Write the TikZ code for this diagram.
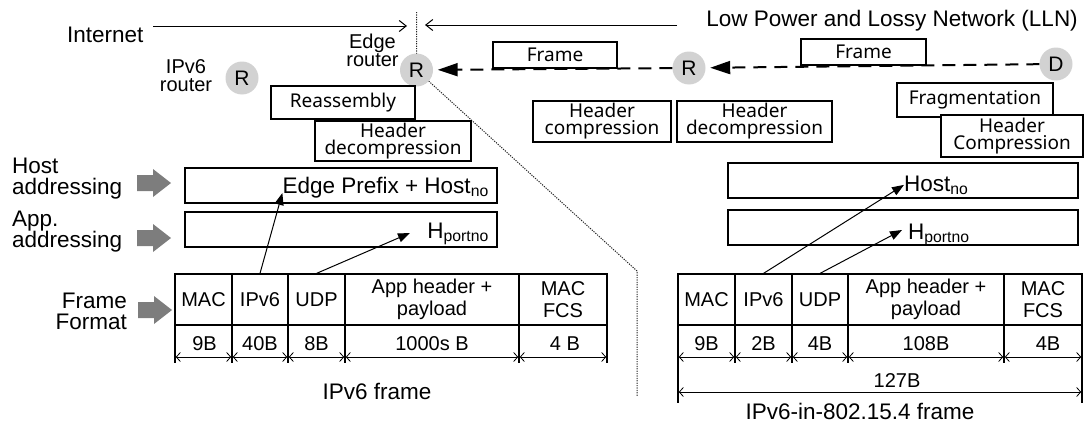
\documentclass[tikz,border=0pt]{standalone}
\usepackage{fontspec}
\setmainfont{Liberation Sans}
\newfontfamily\boxfont{Noto Sans}
\usetikzlibrary{arrows.meta}
\definecolor{routergray}{RGB}{210,210,210}
\definecolor{blockgray}{RGB}{125,125,125}
\tikzset{
    txt/.style={inner sep=0pt, font=\fontsize{22.5}{21}\selectfont},
    smalltxt/.style={inner sep=0pt, align=center, font=\fontsize{20}{18}\selectfont},
    router/.style={circle, fill=routergray, minimum size=33pt, inner sep=0pt, font=\fontsize{21}{21}\selectfont},
    fnbox/.style 2 args={draw, line width=1.5pt, fill=white, minimum width=#1, minimum height=#2,
        inner sep=0pt, align=center, font=\boxfont\fontsize{19}{17}\selectfont},
    addrbox/.style 2 args={draw, line width=1.2pt, minimum width=#1, minimum height=#2, inner sep=0pt},
    cell/.style={draw, line width=1.2pt, minimum height=51pt, inner sep=0pt, align=center, font=\fontsize{20}{22}\selectfont},
    celltxt/.style={inner sep=0pt, font=\fontsize{20}{22}\selectfont},
    tabline/.style={line width=1.2pt},
    sizearrow/.style={{Straight Barb[length=4pt,width=9pt]}-{Straight Barb[length=4pt,width=9pt]}, line width=0.8pt, shorten <=0.8pt, shorten >=0.8pt},
    netarrow/.style={-{Straight Barb[length=7pt,width=11pt]}, line width=1pt},
    dasharrow/.style={-{Triangle[length=20pt,width=13pt]}, line width=2pt, dash pattern=on 13pt off 8pt, shorten >=4.5pt},
    addrarrow/.style={-{Triangle[length=12pt,width=9pt]}, line width=1pt},
    dotline/.style={line width=1pt, black!85, dash pattern=on 1.2pt off 1.2pt},
    blockarrow/.style={fill=blockgray},
}
\begin{document}
\begin{tikzpicture}[x=1pt,y=-1pt]
    \useasboundingbox (0,0) rectangle (1088,423);
    \node[txt, anchor=base west] (inet) at (67,42) {Internet};
    \coordinate (inetl) at (153,26);
    \coordinate (inetr) at (407,26);
    \draw[netarrow] (inetl) -- (inetr);
    \node[txt, anchor=base east] (lln) at (1078,26) {Low Power and Lossy Network (LLN)};
    \coordinate (llnr) at (677,25);
    \coordinate (llnl) at (425,25);
    \draw[netarrow] (llnr) -- (llnl);
    \coordinate (edgec) at (416.5,70);
    \draw[dotline] (416.5,12) -- (edgec) -- (637,271) -- (637,397);
    \node[smalltxt] (iplbl) at (186,76) {IPv6\\router};
    \node[smalltxt] (edgelbl) at (372.5,50) {Edge\\router};
    \node[router] (iprouter) at (242,78) {R};
    \node[router] (edger) at (edgec) {R};
    \node[router] (midr) at (689,68) {R};
    \node[router] (dev) at (1056,64) {D};
    \draw[dasharrow] (dev) -- (midr);
    \draw[dasharrow] (midr) -- (edger);
    \node[fnbox={124pt}{26pt}] (frame1) at (555,55) {Frame};
    \node[fnbox={125pt}{26pt}] (frame2) at (863.5,52) {Frame};
    \node[fnbox={144pt}{33pt}] (reasm) at (343,102.5) {Reassembly};
    \node[fnbox={156pt}{40pt}] (ldecomp) at (393,141) {Header\\decompression};
    \node[fnbox={138pt}{41pt}] (comp) at (602,121.5) {Header\\compression};
    \node[fnbox={155pt}{41pt}] (mdecomp) at (754.5,121.5) {Header\\decompression};
    \node[fnbox={156pt}{34pt}] (frag) at (975,100) {Fragmentation};
    \node[fnbox={142pt}{42pt}] (rcomp) at (1012,136) {Header\\Compression};
    \node[txt, align=left, anchor=west] (hostlbl) at (12,179) {Host\\addressing};
    \node[txt, align=left, anchor=west] (applbl) at (12,232) {App.\\addressing};
    \node[txt, align=right, anchor=east] (fmtlbl) at (127,311) {Frame\\Format};
    \fill[blockarrow] (137,175) -- (153,175) -- (153,169) -- (171,183) -- (153,197) -- (153,191) -- (137,191) -- cycle;
    \fill[blockarrow] (137,230) -- (153,230) -- (153,224) -- (171,238) -- (153,252) -- (153,246) -- (137,246) -- cycle;
    \fill[blockarrow] (138,302) -- (154,302) -- (154,296) -- (172,310) -- (154,324) -- (154,318) -- (138,318) -- cycle;
    \node[addrbox={312pt}{35pt}] (lhostbox) at (341,185.5) {};
    \node[addrbox={312pt}{35pt}] (lappbox) at (341,229.5) {};
    \node[addrbox={350pt}{35pt}] (rhostbox) at (903,180.5) {};
    \node[addrbox={350pt}{35pt}] (rappbox) at (903,227.5) {};
    \node[txt, anchor=base east] (lhost) at (489,193) {Edge Prefix + Host\textsubscript{no}};
    \node[txt, anchor=base east] (lport) at (489,238) {H\textsubscript{portno}};
    \node[txt, anchor=base west] (rhost) at (904,191) {Host\textsubscript{no}};
    \node[txt, anchor=base west] (rport) at (908,239) {H\textsubscript{portno}};
    \node[cell, minimum width=57pt] (lmac) at (203.5,299.5) {MAC};
    \node[cell, minimum width=56pt] (lipv6) at (260,299.5) {IPv6};
    \node[cell, minimum width=57pt] (ludp) at (316.5,299.5) {UDP};
    \node[cell, minimum width=174pt] (lapp) at (432,299.5) {App header +\\payload};
    \node[cell, minimum width=88pt] (lfcs) at (563,299.5) {MAC\\FCS};
    \node[cell, minimum width=57pt] (rmac) at (706.5,299.5) {MAC};
    \node[cell, minimum width=57pt] (ripv6) at (763.5,299.5) {IPv6};
    \node[cell, minimum width=56pt] (rudp) at (820,299.5) {UDP};
    \node[cell, minimum width=156pt] (rapp) at (926,299.5) {App header +\\payload};
    \node[cell, minimum width=78pt] (rfcs) at (1043,299.5) {MAC\\FCS};
    \coordinate (lporttip) at (410,233);
    \coordinate (rporttip) at (902,230);
    \draw[addrarrow] (lipv6.north) -- (lhost.base west);
    \draw[addrarrow] (ludp.north) -- (lporttip);
    \draw[addrarrow] (ripv6.north) -- (rhost.west);
    \draw[addrarrow] (rudp.north) -- (rporttip);
    \draw[tabline] (175,325) -- (175,363) (232,325) -- (232,363) (288,325) -- (288,363)
        (345,325) -- (345,363) (519,325) -- (519,363) (607,325) -- (607,363);
    \draw[tabline] (678,325) -- (678,403) (735,325) -- (735,363) (792,325) -- (792,363)
        (848,325) -- (848,363) (1004,325) -- (1004,363) (1082,325) -- (1082,403);
    \node[celltxt] (lmacb) at (204.5,344) {9B};
    \node[celltxt] (lipv6b) at (260,344) {40B};
    \node[celltxt] (ludpb) at (316.5,344) {8B};
    \node[celltxt] (lappb) at (432,344) {1000s B};
    \node[celltxt] (lfcsb) at (565,344) {4 B};
    \node[celltxt] (rmacb) at (706.5,344) {9B};
    \node[celltxt] (ripv6b) at (763.5,344) {2B};
    \node[celltxt] (rudpb) at (820,344) {4B};
    \node[celltxt] (rappb) at (926,344) {108B};
    \node[celltxt] (rfcsb) at (1048,344) {4B};
    \draw[sizearrow] (175,357) -- (232,357);
    \draw[sizearrow] (232,357) -- (288,357);
    \draw[sizearrow] (288,357) -- (345,357);
    \draw[sizearrow] (345,357) -- (519,357);
    \draw[sizearrow] (519,357) -- (607,357);
    \draw[sizearrow] (678,357) -- (735,357);
    \draw[sizearrow] (735,357) -- (792,357);
    \draw[sizearrow] (792,357) -- (848,357);
    \draw[sizearrow] (848,357) -- (1004,357);
    \draw[sizearrow] (1004,357) -- (1082,357);
    \node[celltxt] (total) at (897,381) {127B};
    \draw[sizearrow] (678,392) -- (1082,392);
    \node[txt] (ipv6cap) at (377,391) {IPv6 frame};
    \node[txt] (lowcap) at (860,411.5) {IPv6-in-802.15.4 frame};
\end{tikzpicture}
\end{document}
